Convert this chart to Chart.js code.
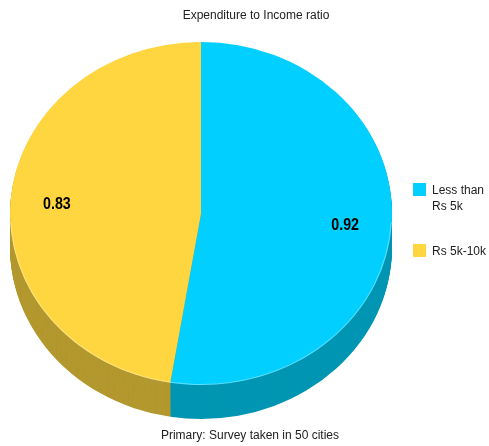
<!DOCTYPE html>
<html>
<head>
<meta charset="utf-8">
<script src="https://cdn.jsdelivr.net/npm/chart.js@4/dist/chart.umd.min.js"></script>
<style>
  html,body{margin:0;padding:0;background:#fff;}
  #wrap{position:relative;width:489px;height:446px;font-family:"Liberation Sans",Arial,sans-serif;color:#222;}
  canvas{position:absolute;left:0;top:0;}
  .txt{position:absolute;font-size:12px;white-space:nowrap;}
  #title{left:0;width:512px;text-align:center;top:8px;}
  #sub{left:0;width:500px;text-align:center;top:428px;}
  .leg{position:absolute;left:413px;font-size:12px;line-height:16px;}
  .leg .sw{position:absolute;left:0;width:13px;height:13px;}
  .leg .lt{position:absolute;left:19px;top:0;white-space:nowrap;}
</style>
</head>
<body>
<div id="wrap">
  <canvas id="c" width="489" height="446"></canvas>
  <div class="txt" id="title"></div>
  <div class="txt" id="sub"></div>
  <div id="legend"></div>
</div>
<script>
const titleText = "Expenditure to Income ratio";
const subtitleText = "Primary: Survey taken in 50 cities";
const categories = [["Less than", "Rs 5k"], ["Rs 5k-10k"]];
const values = [0.92, 0.83];
const topColors = ["#00CFFF", "#FFD640"];
const sideColors = ["#0096B3", "#B3982F"];

document.getElementById('title').textContent = titleText;
document.getElementById('sub').textContent = subtitleText;

const legTops = [183, 244];
const legend = document.getElementById('legend');
categories.forEach((lines, i) => {
  const d = document.createElement('div');
  d.className = 'leg';
  d.style.top = (legTops[i] - 1) + 'px';
  const sw = document.createElement('div');
  sw.className = 'sw';
  sw.style.top = '1px';
  sw.style.background = topColors[i];
  const lt = document.createElement('div');
  lt.className = 'lt';
  lt.innerHTML = lines.map(s => s.replace(/&/g,'&amp;').replace(/</g,'&lt;')).join('<br>');
  d.appendChild(sw); d.appendChild(lt);
  legend.appendChild(d);
});

const CY = 213.5;     // screen y of ellipse centre
const K = 0.898;      // vertical squash
const DEPTH = 34;     // extrusion height in px

const pie3d = {
  id: 'pie3d',
  beforeDatasetsDraw(chart) {
    const ctx = chart.ctx;
    const meta = chart.getDatasetMeta(0);
    const a0 = meta.data[0];
    ctx.save();
    ctx.translate(0, CY);
    ctx.scale(1, K);
    ctx.translate(0, -a0.y);
    for (let d = DEPTH; d >= 1; d--) {
      meta.data.forEach((arc, i) => {
        ctx.beginPath();
        ctx.moveTo(arc.x, arc.y + d / K);
        ctx.arc(arc.x, arc.y + d / K, arc.outerRadius, arc.startAngle, arc.endAngle);
        ctx.closePath();
        ctx.fillStyle = sideColors[i];
        ctx.fill();
      });
    }
  },
  afterDatasetsDraw(chart) {
    const ctx = chart.ctx;
    const meta = chart.getDatasetMeta(0);
    const a0 = meta.data[0];
    ctx.beginPath();
    ctx.arc(a0.x, a0.y, a0.outerRadius - 0.5, 0.05, Math.PI - 0.05);
    ctx.strokeStyle = 'rgba(255,255,255,0.35)';
    ctx.lineWidth = 1 / K;
    ctx.stroke();
    ctx.restore();
    ctx.save();
    ctx.font = 'bold 17px "Liberation Sans", Arial, sans-serif';
    ctx.fillStyle = '#000';
    ctx.textAlign = 'center';
    ctx.textBaseline = 'middle';
    meta.data.forEach((arc, i) => {
      const mid = (arc.startAngle + arc.endAngle) / 2;
      const r = arc.outerRadius * 0.757;
      const x = arc.x + Math.cos(mid) * r;
      const y = CY + Math.sin(mid) * r * K;
      ctx.save();
      ctx.translate(x, y + 1);
      ctx.scale(0.84, 1);
      ctx.fillText(values[i].toFixed(2), 0, 0);
      ctx.restore();
    });
    ctx.restore();
  }
};

new Chart(document.getElementById('c'), {
  type: 'pie',
  data: {
    labels: categories.map(l => l.join(' ')),
    datasets: [{
      data: values,
      backgroundColor: topColors,
      borderWidth: 0,
      hoverOffset: 0
    }]
  },
  options: {
    responsive: false,
    animation: false,
    events: [],
    layout: { padding: { left: 10, right: 97, top: 20, bottom: 44 } },
    plugins: {
      legend: { display: false },
      tooltip: { enabled: false },
      title: { display: false }
    }
  },
  plugins: [pie3d]
});
</script>
</body>
</html>
